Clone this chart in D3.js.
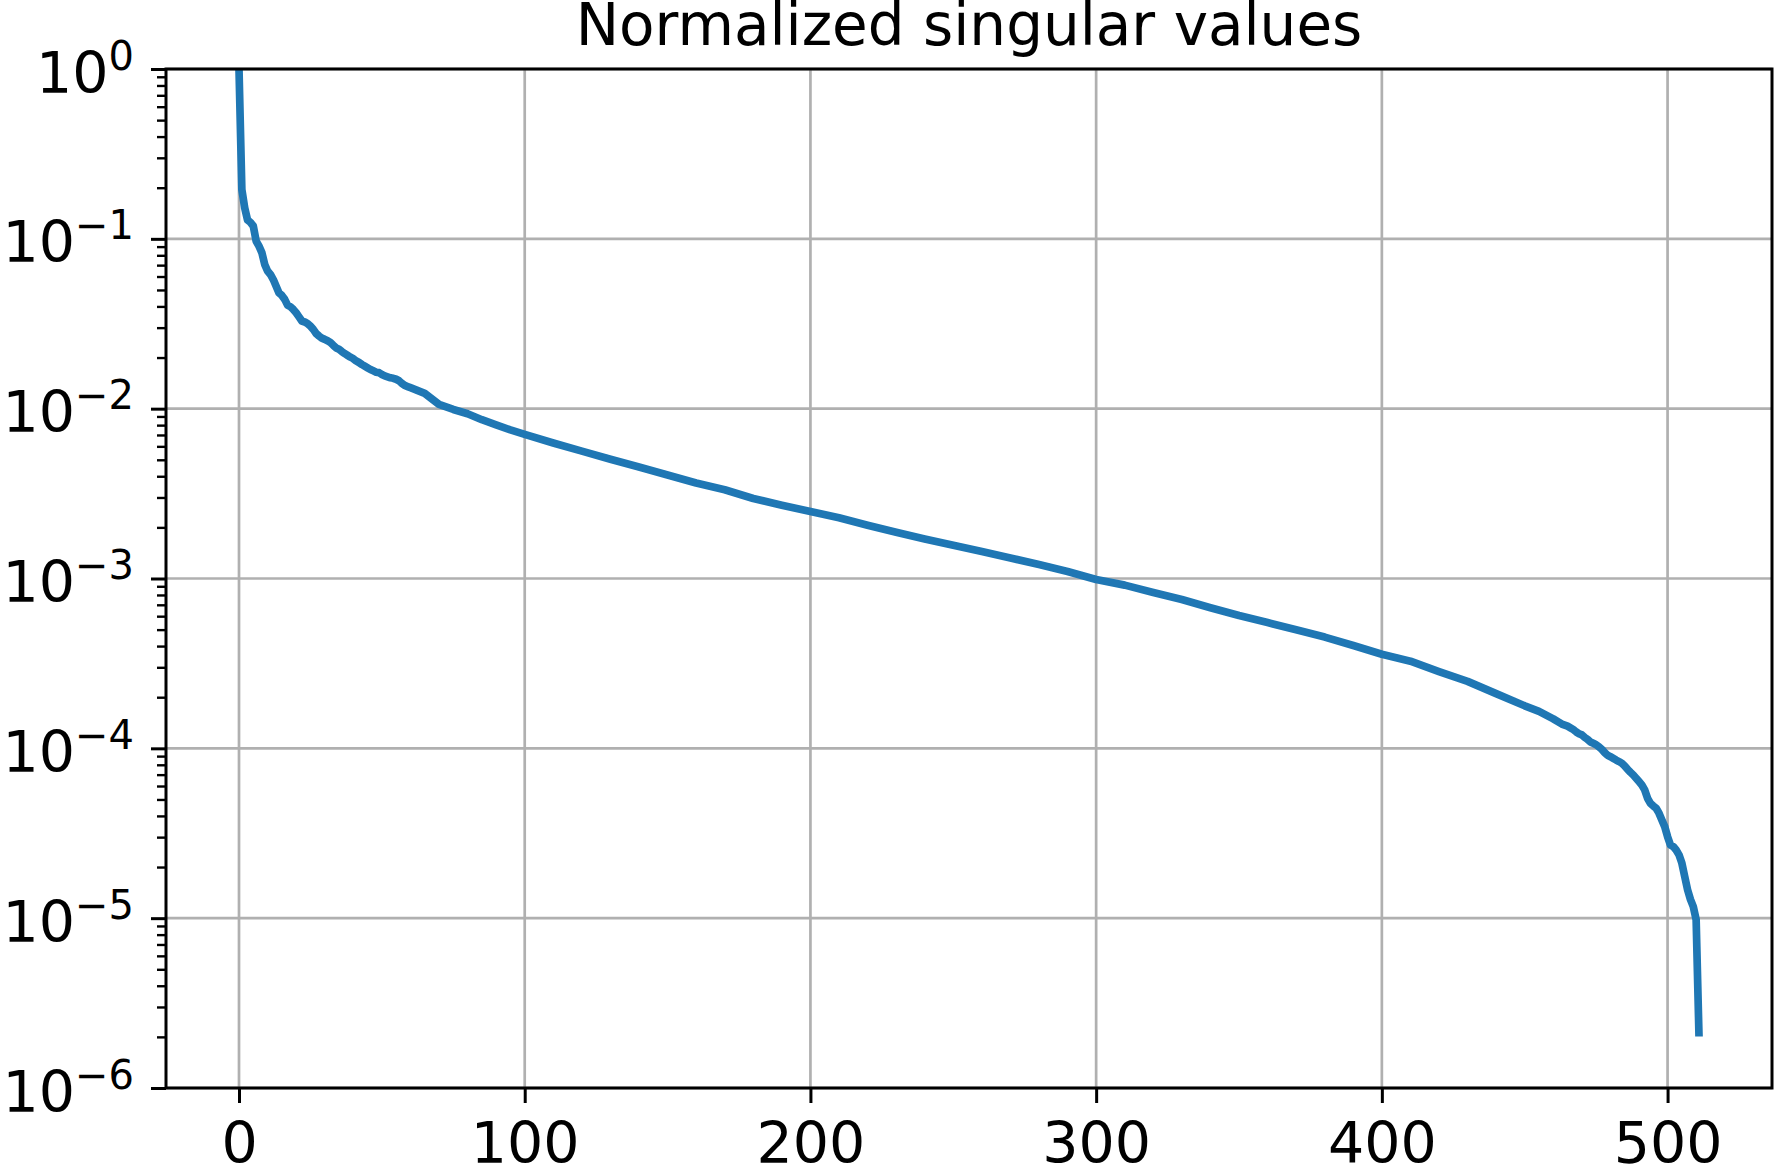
<!DOCTYPE html>
<html>
<head>
<meta charset="utf-8">
<title>Normalized singular values</title>
<style>
  body { margin: 0; background: #fff; }
  text { font-family: "DejaVu Sans", sans-serif; fill: #000; }
  .grid line { stroke: #b0b0b0; stroke-width: 2.7; }
  .axis path.domain { display: none; }
  .axis line { stroke: #000; stroke-width: 3; }
  .axis .minor line { stroke-width: 2.4; }
  .axis text { font-size: 57px; }
  .frame { fill: none; stroke: #000; stroke-width: 3; }
  .curve { fill: none; stroke: #1f77b4; stroke-width: 7.7; stroke-linejoin: round; }
</style>
<script src="https://d3js.org/d3.v7.min.js"></script>
</head>
<body>
<script>
// singular value index and normalized value
const ranks = [
  0, 1, 2, 3, 4, 5, 6, 7, 8, 9, 10, 11, 12, 13, 14, 15, 16, 17, 18, 19,
  20, 21, 22, 23, 24, 25, 26, 27, 28, 29, 30, 31, 32, 33, 34, 35, 36, 37, 38, 39,
  40, 41, 42, 43, 44, 45, 46, 47, 48, 49, 50, 51, 52, 53, 54, 55, 56, 57, 58, 59,
  60, 65, 70, 75, 80, 85, 90, 95, 100, 110, 120, 130, 140, 150, 160, 170, 180, 190,
  200, 210, 220, 230, 240, 250, 260, 270, 280, 290, 300, 310, 320, 330, 340, 350,
  360, 370, 380, 390, 400, 410, 420, 430, 440, 450, 455, 460,
  463, 464, 465, 466, 467, 468, 469, 470, 471, 472, 473, 474, 475, 476, 477, 478,
  479, 480, 481, 482, 483, 484, 485, 486, 487, 488, 489, 490, 491, 492, 493, 494,
  495, 496, 497, 498, 499, 500, 501, 502, 503, 504, 505, 506, 507, 508, 509, 510, 511
];
const values = [
  1, 0.195, 0.152, 0.129, 0.125, 0.119, 0.097, 0.0905, 0.083, 0.0707,
  0.0646, 0.0617, 0.0576, 0.0526, 0.048, 0.0464, 0.044, 0.0407, 0.0398, 0.0384,
  0.0367, 0.0347, 0.0328, 0.0324, 0.0317, 0.0306, 0.0293, 0.0277, 0.0268, 0.026,
  0.0256, 0.0251, 0.0245, 0.0236, 0.0228, 0.0224, 0.0217, 0.0211, 0.0206, 0.0201,
  0.0197, 0.0191, 0.0187, 0.0182, 0.0178, 0.0174, 0.017, 0.0167, 0.0164, 0.0163,
  0.0159, 0.0156, 0.0154, 0.0152, 0.0151, 0.0149, 0.0146, 0.0141, 0.0137, 0.0135,
  0.0133, 0.0123, 0.0106, 0.00989, 0.00933, 0.00861, 0.00804, 0.0075, 0.00705,
  0.00628, 0.00562, 0.00504, 0.00454, 0.00407, 0.00365, 0.00333, 0.00296, 0.0027,
  0.00248, 0.00228, 0.00206, 0.00187, 0.00171, 0.00157, 0.00144, 0.00132, 0.00121,
  0.0011, 0.000986, 0.000914, 0.000828, 0.000752, 0.000673, 0.000605,
  0.00055, 0.000499, 0.000452, 0.000403, 0.000358, 0.000326, 0.000283, 0.000248,
  0.00021, 0.000178, 0.000165, 0.000149,
  0.000139, 0.000137, 0.000135, 0.000132, 0.000129, 0.000125, 0.000122, 0.00012,
  0.000116, 0.000113, 0.000109, 0.000107, 0.000105, 0.000102, 9.86e-5, 9.44e-5,
  9.1e-5, 8.93e-5, 8.73e-5, 8.53e-5, 8.36e-5, 8.17e-5, 7.87e-5, 7.52e-5,
  7.23e-5, 6.97e-5, 6.67e-5, 6.37e-5, 6.08e-5, 5.69e-5, 5.08e-5, 4.74e-5,
  4.58e-5, 4.44e-5, 4.15e-5, 3.78e-5, 3.46e-5, 3.02e-5, 2.7e-5, 2.64e-5,
  2.52e-5, 2.36e-5, 2.11e-5, 1.76e-5, 1.47e-5, 1.29e-5, 1.17e-5, 9.8e-6, 2.01e-6
];
const xTicks = [0, 100, 200, 300, 400, 500];
const yExponents = [0, -1, -2, -3, -4, -5, -6];
const title = "Normalized singular values";

const width = 1774, height = 1174;
const margin = { top: 69, right: 2, bottom: 86, left: 166 };
const plotW = width - margin.left - margin.right;
const plotH = height - margin.top - margin.bottom;

const data = ranks.map((r, i) => ({ r: r, v: values[i] }));

// matplotlib-style 5% padding around the x data range
const xMin = d3.min(ranks), xMax = d3.max(ranks);
const pad = (xMax - xMin) * 0.05;
const x = d3.scaleLinear().domain([xMin - pad, xMax + pad]).range([0, plotW]);
const y = d3.scaleLog().domain([1e-6, 1]).range([plotH, 0]);

const yMajor = yExponents.map(e => Math.pow(10, e));
const yMinor = [];
yExponents.slice(1).forEach(e => {
  for (let k = 2; k <= 9; k++) yMinor.push(k * Math.pow(10, e));
});

const svg = d3.select('body').append('svg')
  .attr('width', width)
  .attr('height', height)
  .style('overflow', 'visible');

const g = svg.append('g').attr('transform', `translate(${margin.left},${margin.top})`);

g.append('clipPath').attr('id', 'plot-clip')
  .append('rect').attr('width', plotW).attr('height', plotH);

// grid
const grid = g.append('g').attr('class', 'grid');
grid.selectAll('line.gx').data(xTicks).enter().append('line')
  .attr('class', 'gx')
  .attr('x1', d => x(d)).attr('x2', d => x(d))
  .attr('y1', 0).attr('y2', plotH);
grid.selectAll('line.gy').data(yMajor).enter().append('line')
  .attr('class', 'gy')
  .attr('x1', 0).attr('x2', plotW)
  .attr('y1', d => y(d)).attr('y2', d => y(d));

// curve
g.append('path')
  .datum(data)
  .attr('class', 'curve')
  .attr('clip-path', 'url(#plot-clip)')
  .attr('d', d3.line().x(d => x(d.r)).y(d => y(d.v)));

// x axis
const xAxis = g.append('g').attr('class', 'axis')
  .attr('transform', `translate(0,${plotH})`)
  .call(d3.axisBottom(x).tickValues(xTicks).tickSize(15).tickSizeOuter(0).tickFormat(d3.format('d')));
xAxis.selectAll('text').attr('y', 75).attr('dy', null);

// y axis, minor ticks
g.append('g').attr('class', 'axis')
  .call(d3.axisLeft(y).tickValues(yMinor).tickSize(9).tickSizeOuter(0).tickFormat(''))
  .selectAll('.tick').classed('minor', true);

// y axis, major ticks with 10^n labels
const yAxis = g.append('g').attr('class', 'axis')
  .call(d3.axisLeft(y).tickValues(yMajor).tickSize(15).tickSizeOuter(0).tickFormat(''));
yAxis.selectAll('.tick text').each(function (d) {
  const e = Math.round(Math.log10(d));
  const t = d3.select(this)
    .attr('x', -32).attr('y', 23).attr('dy', null)
    .attr('text-anchor', 'end');
  t.text(null);
  t.append('tspan').text('10');
  t.append('tspan')
    .attr('dy', -23)
    .attr('font-size', 40)
    .text(e === 0 ? '0' : '\u2212' + Math.abs(e));
});

// frame
g.append('rect').attr('class', 'frame')
  .attr('width', plotW).attr('height', plotH);

// title
svg.append('text')
  .attr('x', margin.left + plotW / 2)
  .attr('y', 45)
  .attr('text-anchor', 'middle')
  .attr('font-size', 58)
  .text(title);
</script>
</body>
</html>
